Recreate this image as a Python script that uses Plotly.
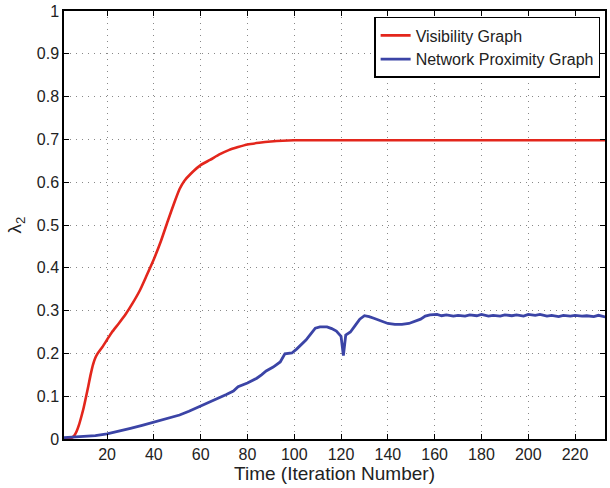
import plotly.graph_objects as go

# Visibility Graph
vis_t = [1, 3, 5, 6, 7, 8, 9, 10, 11, 12, 13, 14, 15, 16, 18, 20, 22, 25, 28, 31, 34,
         37, 40, 43, 46, 49, 51, 53, 56, 60, 64, 68, 72, 76, 80, 85, 90, 95, 100, 120,
         140, 160, 180, 200, 220, 233]
vis_v = [0.0, 0.0, 0.003, 0.008, 0.018, 0.033, 0.052, 0.073, 0.098, 0.124, 0.151, 0.174,
         0.19, 0.2, 0.215, 0.232, 0.249, 0.27, 0.292, 0.318, 0.347, 0.383, 0.42, 0.462,
         0.51, 0.556, 0.584, 0.603, 0.621, 0.64, 0.652, 0.665, 0.675, 0.682, 0.688, 0.692,
         0.695, 0.697, 0.698, 0.698, 0.698, 0.698, 0.698, 0.698, 0.698, 0.698]

# Network Proximity Graph
net_t = [1, 5, 10, 15, 20, 25, 30, 35, 40, 45, 51, 55, 60, 64, 68, 71, 74, 76, 80, 84,
         86, 88, 91, 94, 96, 99, 101, 103, 105, 107, 109, 111, 114, 116, 118, 120, 121,
         122, 124, 126, 128, 130, 132, 134, 137, 140, 143, 146, 149, 152, 154, 156, 158,
         161, 163, 165, 168, 170, 173, 175, 178, 180, 183, 185, 188, 190, 193, 195, 198,
         200, 203, 205, 208, 210, 213, 215, 218, 220, 223, 225, 228, 230, 233]
net_v = [0.003, 0.004, 0.006, 0.008, 0.012, 0.018, 0.025, 0.032, 0.040, 0.047, 0.056,
         0.065, 0.077, 0.086, 0.096, 0.104, 0.112, 0.122, 0.131, 0.142, 0.150, 0.159,
         0.168, 0.180, 0.199, 0.201, 0.21, 0.220, 0.231, 0.245, 0.259, 0.262, 0.262,
         0.258, 0.252, 0.24, 0.195, 0.243, 0.25, 0.265, 0.28, 0.288, 0.286, 0.282, 0.276,
         0.27, 0.268, 0.268, 0.27, 0.275, 0.28, 0.287, 0.29, 0.291, 0.288, 0.29, 0.287,
         0.289, 0.287, 0.29, 0.288, 0.291, 0.287, 0.289, 0.287, 0.290, 0.288, 0.290,
         0.287, 0.291, 0.289, 0.291, 0.287, 0.289, 0.286, 0.289, 0.287, 0.289, 0.287,
         0.288, 0.286, 0.289, 0.285]

x_ticks = [20, 40, 60, 80, 100, 120, 140, 160, 180, 200, 220]
y_ticks = [0, 0.1, 0.2, 0.3, 0.4, 0.5, 0.6, 0.7, 0.8, 0.9, 1]
y_labels = ["0", "0.1", "0.2", "0.3", "0.4", "0.5", "0.6", "0.7", "0.8", "0.9", "1"]

fig = go.Figure()
fig.add_trace(go.Scatter(x=vis_t, y=vis_v, mode="lines", name="Visibility Graph",
                         line=dict(color="#e3261c", width=2.6, shape="spline", smoothing=0.6)))
fig.add_trace(go.Scatter(x=net_t, y=net_v, mode="lines", name="Network Proximity Graph",
                         line=dict(color="#3b44a6", width=2.8)))

font = "Liberation Sans, Arial, Helvetica, sans-serif"
fig.update_layout(
    width=610, height=488,
    margin=dict(l=64, r=3, t=11, b=49),
    paper_bgcolor="white", plot_bgcolor="white",
    font=dict(family=font, size=16, color="#222"),
    legend=dict(x=0.991, y=0.986, xanchor="right", yanchor="top",
                bgcolor="white", bordercolor="black", borderwidth=1.5,
                font=dict(size=16, color="#222"), tracegroupgap=0,
                itemwidth=30),
    showlegend=True,
)
grid = dict(showgrid=True, gridcolor="#888", griddash="1px,5px", gridwidth=1,
            zeroline=False, ticks="inside", ticklen=5, tickcolor="black",
            showline=True, linecolor="black", linewidth=1.5, mirror="ticks")
fig.update_xaxes(range=[1.6, 232.8], tickvals=x_ticks,
                 title=dict(text="Time (Iteration Number)", standoff=0), **grid)
fig.update_yaxes(range=[0, 1], tickvals=y_ticks, ticktext=y_labels,
                 title=dict(text="λ<sub>2</sub>", standoff=10), **grid)

fig.write_html("out.html", config={"displayModeBar": False},
               post_script="document.body.style.margin='0';")
